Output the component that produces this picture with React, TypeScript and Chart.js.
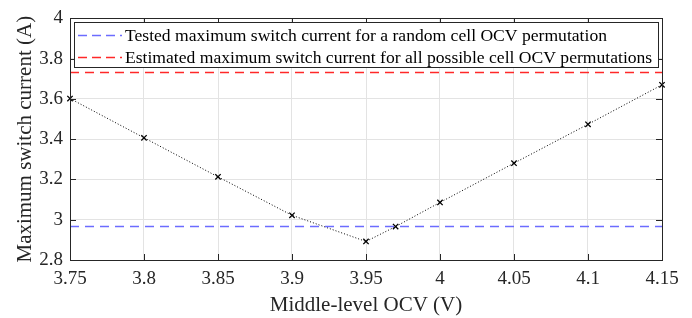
import React, { useEffect, useRef } from "react";
import { Chart, registerables } from "chart.js";

Chart.register(...registerables);

const ocv = [3.75, 3.8, 3.85, 3.9, 3.95, 3.97, 4.0, 4.05, 4.1, 4.15];
const maxCurrent = [3.602, 3.407, 3.213, 3.022, 2.892, 2.966, 3.086, 3.281, 3.474, 3.67];
const testedMax = 2.966;
const estimatedMax = 3.731;
const xTicks = [3.75, 3.8, 3.85, 3.9, 3.95, 4.0, 4.05, 4.1, 4.15];
const yTicks = [2.8, 3.0, 3.2, 3.4, 3.6, 3.8, 4.0];
const legendLabels = [
  "Tested maximum switch current for a random cell OCV permutation",
  "Estimated maximum switch current for all possible cell OCV permutations",
];
const xTitle = "Middle-level OCV (V)";
const yTitle = "Maximum switch current (A)";

const FONT = "'Liberation Serif', 'Times New Roman', serif";
const BLUE = "rgba(100,100,255,0.95)";
const RED = "rgba(255,30,30,0.95)";
const AXIS = "#262626";

const fmt = (v: number) => String(Number(v.toFixed(2)));

const boxPlugin = {
  id: "boxPlugin",
  afterDatasetsDraw(chart: any) {
    const { ctx, chartArea: a, scales } = chart;
    const tl = 6;
    ctx.save();
    ctx.strokeStyle = AXIS;
    ctx.lineWidth = 1;
    ctx.beginPath();
    for (const v of xTicks) {
      const x = Math.round(scales.x.getPixelForValue(v)) + 0.5;
      ctx.moveTo(x, a.bottom);
      ctx.lineTo(x, a.bottom - tl);
      ctx.moveTo(x, a.top);
      ctx.lineTo(x, a.top + tl);
    }
    for (const v of yTicks) {
      const y = Math.round(scales.y.getPixelForValue(v)) + 0.5;
      ctx.moveTo(a.left, y);
      ctx.lineTo(a.left + tl, y);
      ctx.moveTo(a.right, y);
      ctx.lineTo(a.right - tl, y);
    }
    ctx.stroke();
    ctx.strokeRect(Math.round(a.left) + 0.5, Math.round(a.top) + 0.5, Math.round(a.right - a.left), Math.round(a.bottom - a.top));

    // legend
    const lx = a.left + 4;
    const ly = a.top + 4;
    const lw = a.right - a.left - 8;
    const lh = 45;
    ctx.fillStyle = "#fff";
    ctx.fillRect(lx, ly, lw, lh);
    ctx.strokeStyle = AXIS;
    ctx.strokeRect(Math.round(lx) + 0.5, Math.round(ly) + 0.5, Math.round(lw), lh);
    const colors = [BLUE, RED];
    ctx.font = `17.6px ${FONT}`;
    ctx.textBaseline = "middle";
    legendLabels.forEach((t, i) => {
      const y = ly + 13 + i * 22;
      ctx.strokeStyle = colors[i];
      ctx.lineWidth = 1.5;
      ctx.setLineDash([9, 5]);
      ctx.beginPath();
      ctx.moveTo(lx + 4, y);
      ctx.lineTo(lx + 48, y);
      ctx.stroke();
      ctx.setLineDash([]);
      ctx.fillStyle = "#000";
      ctx.fillText(t, lx + 51, y + 1);
    });
    ctx.restore();
  },
};

export default function App() {
  const ref = useRef<HTMLCanvasElement | null>(null);
  useEffect(() => {
    document.body.style.margin = "0";
    const canvas = ref.current!;
    const chart = new Chart(canvas, {
      type: "scatter",
      data: {
        datasets: [
          {
            label: legendLabels[0],
            data: [
              { x: xTicks[0], y: testedMax },
              { x: xTicks[xTicks.length - 1], y: testedMax },
            ],
            showLine: true,
            borderColor: BLUE,
            borderWidth: 1.5,
            borderDash: [9, 6],
            pointRadius: 0,
          },
          {
            label: legendLabels[1],
            data: [
              { x: xTicks[0], y: estimatedMax },
              { x: xTicks[xTicks.length - 1], y: estimatedMax },
            ],
            showLine: true,
            borderColor: RED,
            borderWidth: 1.5,
            borderDash: [9, 6],
            pointRadius: 0,
          },
          {
            label: "data",
            data: ocv.map((x, i) => ({ x, y: maxCurrent[i] })),
            showLine: true,
            borderColor: "#000",
            borderWidth: 1,
            borderDash: [1, 2],
            pointStyle: "crossRot",
            pointRadius: 3.8,
            pointBorderColor: "#000",
            pointBorderWidth: 1.3,
            clip: false as any,
          },
        ],
      },
      options: {
        animation: false,
        responsive: false,
        maintainAspectRatio: false,
        layout: { padding: { top: 13, right: 30, left: 0, bottom: 0 } },
        plugins: { legend: { display: false }, tooltip: { enabled: false } },
        scales: {
          x: {
            type: "linear",
            min: xTicks[0],
            max: xTicks[xTicks.length - 1],
            afterBuildTicks: (s: any) => {
              s.ticks = xTicks.map((v) => ({ value: v }));
            },
            afterFit: (s: any) => {
              s.height = 58;
            },
            grid: { color: "#e3e3e3", drawTicks: false, lineWidth: 1 },
            border: { display: false },
            ticks: {
              color: "#262626",
              font: { family: FONT, size: 19 },
              padding: 8,
              maxRotation: 0,
              autoSkip: false,
              callback: (v: any) => fmt(Number(v)),
            },
            title: {
              display: true,
              text: xTitle,
              color: "#262626",
              font: { family: FONT, size: 21 },
              padding: { top: 0, bottom: 0 },
            },
          },
          y: {
            type: "linear",
            min: yTicks[0],
            max: yTicks[yTicks.length - 1],
            afterBuildTicks: (s: any) => {
              s.ticks = yTicks.map((v) => ({ value: v }));
            },
            afterFit: (s: any) => {
              s.width = 70;
            },
            grid: { color: "#e3e3e3", drawTicks: false, lineWidth: 1 },
            border: { display: false },
            ticks: {
              color: "#262626",
              font: { family: FONT, size: 19 },
              padding: 7,
              autoSkip: false,
              callback: (v: any) => fmt(Number(v)),
            },
            title: {
              display: true,
              text: yTitle,
              color: "#262626",
              font: { family: FONT, size: 21 },
              padding: { top: 13, bottom: 0 },
            },
          },
        },
      },
      plugins: [boxPlugin],
    });
    return () => chart.destroy();
  }, []);
  return (
    <div style={{ width: 692, height: 318 }}>
      <canvas ref={ref} width={692} height={318} style={{ width: 692, height: 318, display: "block" }} />
    </div>
  );
}
